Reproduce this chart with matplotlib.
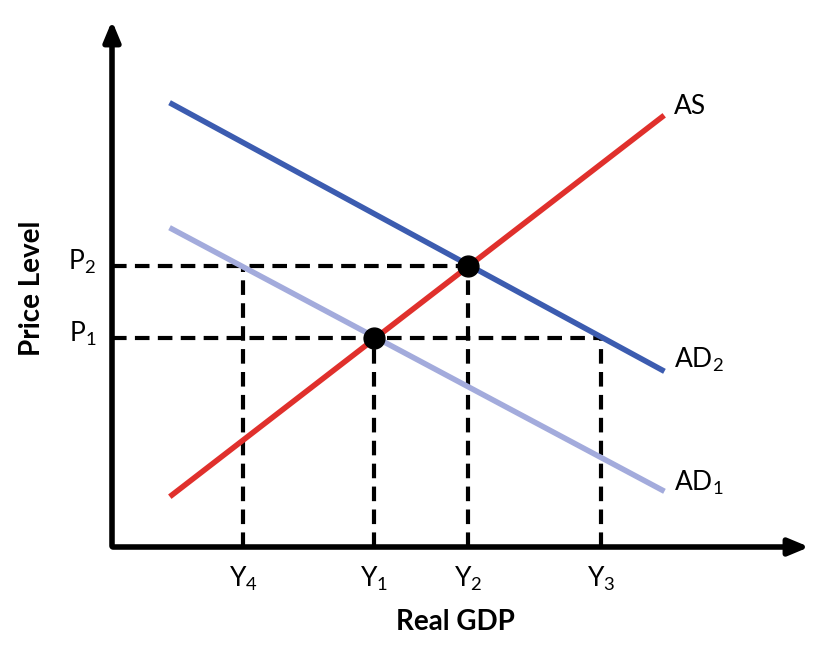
import matplotlib
matplotlib.use('Agg')
import matplotlib.pyplot as plt

# coordinates in a 817x648 canvas (y measured upward)
H = 648
as_x = [172, 662]
as_y = [H - 495, H - 117]
ad2_x = [172, 662]
ad2_y = [H - 104, H - 370]
ad1_x = [172, 662]
ad1_y = [H - 229, H - 490]

p_levels = [H - 338, H - 266]          # P1, P2
p_labels = ['P$_1$', 'P$_2$']
y_points = [374, 468, 601, 243]        # Y1, Y2, Y3, Y4
y_labels = ['Y$_1$', 'Y$_2$', 'Y$_3$', 'Y$_4$']
eq_points = [(374, H - 338), (468, H - 266)]

ox, oy = 112, H - 547

plt.rcParams['font.family'] = ['Lato', 'DejaVu Sans']
plt.rcParams['mathtext.fontset'] = 'custom'
plt.rcParams['mathtext.rm'] = 'Lato'
plt.rcParams['mathtext.it'] = 'Lato'

fig = plt.figure(figsize=(8.17, 6.48), dpi=100)
ax = fig.add_axes([0, 0, 1, 1])
ax.set_xlim(0, 817)
ax.set_ylim(0, H)
ax.axis('off')

# axes arrows
ax.annotate('', xy=(812, oy), xytext=(ox - 2, oy),
            arrowprops=dict(arrowstyle='-|>,head_length=1.2,head_width=0.5', color='black', lw=4))
ax.annotate('', xy=(ox, H - 18), xytext=(ox, oy - 2),
            arrowprops=dict(arrowstyle='-|>,head_length=1.2,head_width=0.5', color='black', lw=4))

# dashed guides
dash = dict(color='black', lw=3, ls=(0, (3.5, 2)), zorder=1)
ax.plot([ox, 468], [p_levels[1]] * 2, **dash)
ax.plot([ox, 601], [p_levels[0]] * 2, **dash)
ax.plot([374, 374], [oy, p_levels[0]], **dash)
ax.plot([468, 468], [oy, p_levels[1]], **dash)
ax.plot([601, 601], [oy, p_levels[0]], **dash)
ax.plot([243, 243], [oy, p_levels[1]], **dash)

ax.plot(ad1_x, ad1_y, color='#a3abdc', lw=4, zorder=2)
ax.plot(ad2_x, ad2_y, color='#3c5cb0', lw=4, zorder=2)
ax.plot(as_x, as_y, color='#e0302c', lw=4, zorder=3)

for x, y in eq_points:
    ax.plot(x, y, 'o', color='black', ms=15, zorder=4)

fs = 19
for y, lab in zip(p_levels, p_labels):
    ax.text(96, y + 4, lab, ha='right', va='center', fontsize=fs)
for x, lab in zip(y_points, y_labels):
    ax.text(x, oy - 32, lab, ha='center', va='center', fontsize=fs)
ax.text(674, H - 106, 'AS', ha='left', va='center', fontsize=fs)
ax.text(674, H - 360, 'AD$_2$', ha='left', va='center', fontsize=fs)
ax.text(674, H - 483, 'AD$_1$', ha='left', va='center', fontsize=fs)

ax.text(455, H - 622, 'Real GDP', ha='center', va='center', fontsize=20, fontweight='bold')
ax.text(32, H - 288, 'Price Level', ha='center', va='center', fontsize=20,
        fontweight='bold', rotation=90)

fig.savefig('out.png', dpi=100)
